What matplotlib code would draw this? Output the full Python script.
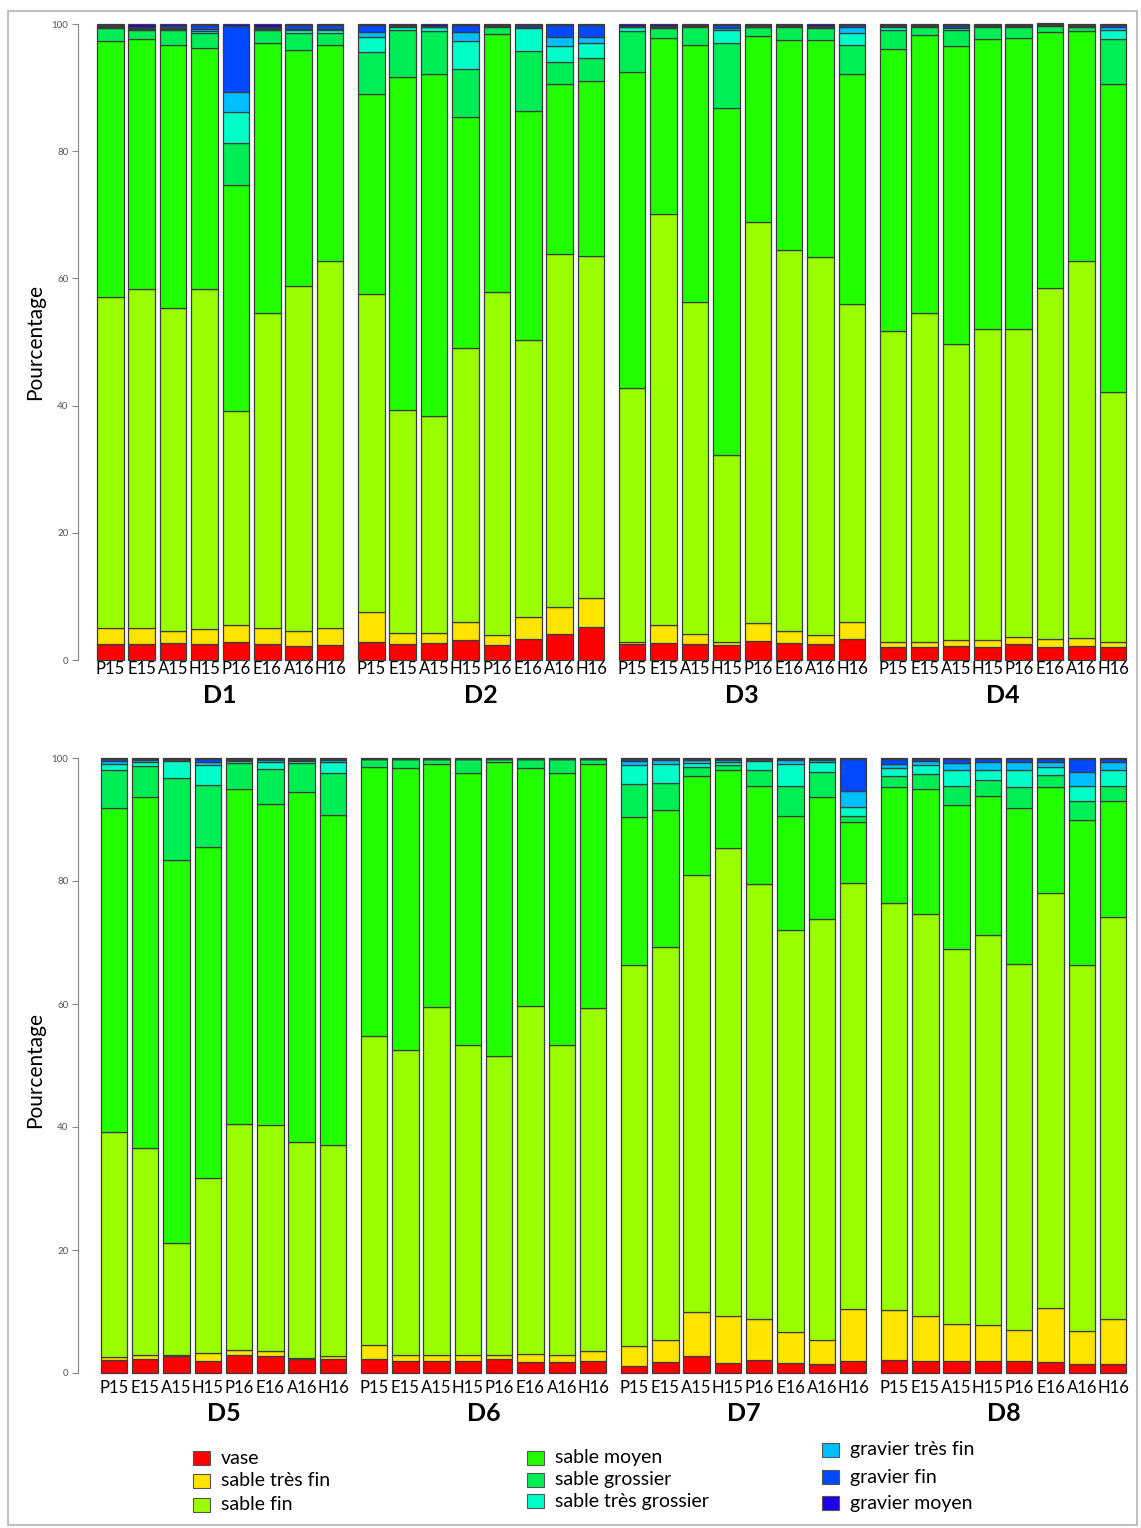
import numpy as np
import matplotlib
matplotlib.use("Agg")
import matplotlib.pyplot as plt
from matplotlib.patches import Rectangle

plt.rcParams['font.family'] = ['Lato', 'DejaVu Sans']

# --- data (percent of each sediment class, one row per site, one value per season) ---
sites = ["D1", "D2", "D3", "D4", "D5", "D6", "D7", "D8"]
seasons = ["P15", "E15", "A15", "H15", "P16", "E16", "A16", "H16"]
classes = ["vase", "sable très fin", "sable fin", "sable moyen", "sable grossier",
           "sable très grossier", "gravier très fin", "gravier fin", "gravier moyen"]
colors = ["#FF0000", "#FFE400", "#99FF00", "#22FF00", "#00EE55",
          "#00FFC8", "#00BFFF", "#0048FF", "#2000E8"]

vase = [[2.5, 2.5, 2.7, 2.5, 2.8, 2.5, 2.2, 2.3],
        [2.8, 2.5, 2.6, 3.2, 2.4, 3.3, 4.1, 5.2],
        [2.5, 2.6, 2.5, 2.4, 3.0, 2.6, 2.5, 3.3],
        [2.0, 2.0, 2.2, 2.1, 2.5, 2.1, 2.2, 2.0],
        [2.1, 2.2, 2.8, 2.0, 2.9, 2.8, 2.2, 2.2],
        [2.3, 2.0, 2.0, 2.0, 2.3, 1.8, 1.8, 1.9],
        [1.2, 1.8, 2.8, 1.6, 2.1, 1.7, 1.4, 2.0],
        [2.1, 2.0, 2.0, 2.0, 2.0, 1.8, 1.4, 1.5]]
sable_tres_fin = [[2.5, 2.5, 1.9, 2.3, 2.7, 2.5, 2.4, 2.8],
                  [4.7, 1.7, 1.7, 2.7, 1.6, 3.5, 4.3, 4.6],
                  [0.4, 2.9, 1.6, 0.4, 2.8, 1.9, 1.5, 2.7],
                  [0.9, 0.8, 1.0, 1.0, 1.1, 1.2, 1.3, 0.8],
                  [0.5, 0.8, 0.2, 1.2, 0.9, 0.8, 0.3, 0.5],
                  [2.2, 1.0, 1.0, 0.9, 0.6, 1.3, 1.1, 1.6],
                  [3.2, 3.6, 7.2, 7.6, 6.7, 4.9, 4.0, 8.4],
                  [8.1, 7.2, 6.0, 5.8, 5.0, 8.7, 5.5, 7.2]]
sable_fin = [[52.0, 53.3, 50.7, 53.5, 33.7, 49.5, 54.2, 57.6],
             [50.1, 35.1, 34.0, 43.1, 53.8, 43.5, 55.4, 53.8],
             [39.9, 64.7, 52.2, 29.4, 63.0, 59.9, 59.3, 49.9],
             [48.9, 51.7, 46.5, 48.9, 48.4, 55.2, 59.3, 39.4],
             [36.6, 33.6, 18.2, 28.5, 36.7, 36.7, 35.0, 34.4],
             [50.3, 49.5, 56.5, 50.4, 48.6, 56.6, 50.4, 55.8],
             [62.0, 63.8, 71.0, 76.1, 70.7, 65.4, 68.4, 69.2],
             [66.2, 65.4, 60.9, 63.5, 59.5, 67.6, 59.4, 65.5]]
sable_moyen = [[40.4, 39.3, 41.4, 38.0, 35.5, 42.5, 37.1, 34.0],
               [31.4, 52.3, 53.8, 36.4, 40.6, 36.0, 26.7, 27.4],
               [49.7, 27.6, 40.4, 54.6, 29.3, 33.1, 34.2, 36.3],
               [44.2, 43.8, 46.8, 45.7, 45.8, 40.2, 36.1, 48.3],
               [52.6, 57.1, 62.2, 53.9, 54.5, 52.2, 56.9, 53.7],
               [43.7, 45.9, 39.6, 44.3, 47.9, 38.7, 44.2, 39.8],
               [24.0, 22.3, 16.1, 12.8, 15.9, 18.6, 19.9, 10.0],
               [18.9, 20.3, 23.5, 22.5, 25.3, 17.2, 23.6, 18.8]]
sable_grossier = [[2.0, 1.4, 2.3, 2.3, 6.6, 2.0, 2.7, 1.9],
                  [6.6, 7.4, 6.8, 7.5, 1.2, 9.5, 3.5, 3.7],
                  [6.4, 1.6, 2.9, 10.2, 1.4, 2.1, 1.9, 4.5],
                  [3.1, 1.3, 2.5, 1.9, 1.8, 1.0, 0.7, 7.1],
                  [6.2, 5.0, 13.3, 10.0, 4.2, 5.7, 4.8, 6.8],
                  [1.3, 1.4, 0.7, 2.2, 0.4, 1.4, 2.3, 0.7],
                  [5.3, 4.4, 1.4, 0.8, 2.7, 4.8, 4.1, 1.0],
                  [1.8, 2.5, 3.1, 2.7, 3.5, 1.9, 3.1, 2.4]]
sable_tres_grossier = [[0.2, 0.2, 0.2, 0.3, 4.8, 0.2, 0.4, 0.4],
                       [2.4, 0.6, 0.6, 4.4, 0.1, 3.5, 2.6, 2.3],
                       [0.6, 0.1, 0.1, 2.0, 0.1, 0.1, 0.1, 1.9],
                       [0.4, 0.1, 0.4, 0.1, 0.1, 0.1, 0.1, 1.4],
                       [1.0, 0.6, 2.8, 3.3, 0.3, 1.1, 0.3, 1.8],
                       [0.0, 0.0, 0.0, 0.0, 0.0, 0.0, 0.0, 0.0],
                       [3.1, 3.2, 0.7, 0.4, 1.4, 3.6, 1.6, 1.4],
                       [1.3, 1.5, 2.6, 1.6, 2.8, 1.3, 2.4, 2.7]]
gravier_tres_fin = [[0.1, 0.1, 0.2, 0.3, 3.2, 0.2, 0.2, 0.2],
                    [0.7, 0.1, 0.1, 1.4, 0.1, 0.3, 1.3, 0.9],
                    [0.1, 0.1, 0.1, 0.4, 0.1, 0.1, 0.1, 0.9],
                    [0.2, 0.1, 0.2, 0.1, 0.1, 0.1, 0.1, 0.5],
                    [0.5, 0.3, 0.2, 0.5, 0.2, 0.3, 0.2, 0.2],
                    [0.0, 0.0, 0.0, 0.0, 0.0, 0.0, 0.0, 0.0],
                    [0.7, 0.5, 0.4, 0.3, 0.2, 0.6, 0.3, 2.6],
                    [0.7, 0.6, 1.1, 1.2, 1.2, 0.8, 2.4, 1.2]]
gravier_fin = [[0.1, 0.2, 0.3, 0.6, 10.4, 0.2, 0.6, 0.6],
               [1.1, 0.1, 0.1, 1.1, 0.1, 0.2, 1.9, 1.9],
               [0.1, 0.1, 0.1, 0.4, 0.1, 0.1, 0.1, 0.4],
               [0.2, 0.1, 0.2, 0.1, 0.1, 0.1, 0.1, 0.3],
               [0.3, 0.2, 0.1, 0.4, 0.1, 0.2, 0.1, 0.2],
               [0.0, 0.0, 0.0, 0.0, 0.0, 0.0, 0.0, 0.0],
               [0.3, 0.2, 0.2, 0.2, 0.1, 0.2, 0.1, 5.2],
               [0.7, 0.3, 0.6, 0.5, 0.5, 0.5, 2.0, 0.5]]
gravier_moyen = [[0.2, 0.5, 0.3, 0.2, 0.3, 0.4, 0.2, 0.2],
                 [0.2, 0.2, 0.3, 0.2, 0.1, 0.2, 0.2, 0.2],
                 [0.3, 0.3, 0.1, 0.2, 0.2, 0.1, 0.3, 0.1],
                 [0.1, 0.1, 0.2, 0.1, 0.1, 0.1, 0.1, 0.2],
                 [0.2, 0.2, 0.2, 0.2, 0.2, 0.2, 0.2, 0.2],
                 [0.2, 0.2, 0.2, 0.2, 0.2, 0.2, 0.2, 0.2],
                 [0.2, 0.2, 0.2, 0.2, 0.2, 0.2, 0.2, 0.2],
                 [0.2, 0.2, 0.2, 0.2, 0.2, 0.2, 0.2, 0.2]]

series = [vase, sable_tres_fin, sable_fin, sable_moyen, sable_grossier,
          sable_tres_grossier, gravier_tres_fin, gravier_fin, gravier_moyen]

W, H = 1141, 1528
fig = plt.figure(figsize=(W / 100, H / 100), dpi=100)


def px_axes(left, top, right, bottom):
    return fig.add_axes([left / W, 1 - bottom / H, (right - left) / W, (bottom - top) / H])


BAR_W = 0.845
GROUP_STEP = 8.31


def draw_panel(ax, site_idx, xlim, label_pad, group_y):
    xs_all, labels = [], []
    for k, s in enumerate(site_idx):
        xs = k * GROUP_STEP + np.arange(len(seasons))
        bottom = np.zeros(len(seasons))
        for ser, col in zip(series, colors):
            vals = np.array(ser[s])
            ax.bar(xs, vals, bottom=bottom, width=BAR_W, color=col,
                   edgecolor="#3c3c3c", linewidth=0.9, clip_on=False)
            bottom += vals
        xs_all.extend(xs)
        labels.extend(seasons)
        ax.text(xs.mean(), group_y, sites[s], transform=ax.get_xaxis_transform(),
                ha="center", va="center", fontsize=18, fontweight="bold")
    ax.set_xlim(*xlim)
    ax.set_ylim(0, 100)
    ax.set_xticks(xs_all)
    ax.set_xticklabels(labels, fontsize=12)
    ax.tick_params(axis="x", length=0, pad=label_pad)
    ax.set_yticks([0, 20, 40, 60, 80, 100])
    ax.tick_params(axis="y", length=4, color="#888888", labelsize=7,
                   labelcolor="#555555", pad=3)
    for sp in ["top", "right", "bottom"]:
        ax.spines[sp].set_visible(False)
    ax.spines["left"].set_color("#888888")
    ax.spines["left"].set_bounds(0, 100)
    ax.patch.set_alpha(0)


ax1 = px_axes(78, 24, 1134, 660)
draw_panel(ax1, [0, 1, 2, 3], (-1.03, 32.6), 1, -0.056)
ax2 = px_axes(78, 758, 1134, 1373)
draw_panel(ax2, [4, 5, 6, 7], (-1.15, 32.6), 5, -0.066)

fig.text(35 / W, 1 - 342 / H, "Pourcentage", rotation=90, ha="center", va="center", fontsize=15)
fig.text(35 / W, 1 - 1070 / H, "Pourcentage", rotation=90, ha="center", va="center", fontsize=15)

# legend, three columns
leg_x = [193, 193, 193, 527, 527, 527, 822, 822, 822]
leg_y = [1458, 1481, 1505, 1458, 1480, 1501, 1450, 1477, 1503]
for name, col, lx, ly in zip(classes, colors, leg_x, leg_y):
    fig.patches.append(Rectangle((lx / W, 1 - (ly + 7) / H), 17 / W, 14 / H,
                                 transform=fig.transFigure, facecolor=col,
                                 edgecolor="#555555", linewidth=0.8))
    fig.text((lx + 28) / W, 1 - ly / H, name, ha="left", va="center", fontsize=14)

# outer frame
fig.patches.append(Rectangle((8 / W, 1 - 1525 / H), 1129 / W, 1514 / H,
                             transform=fig.transFigure, fill=False,
                             edgecolor="#c0c0c0", linewidth=1.5))

fig.savefig("out.png", dpi=100, facecolor="white")
